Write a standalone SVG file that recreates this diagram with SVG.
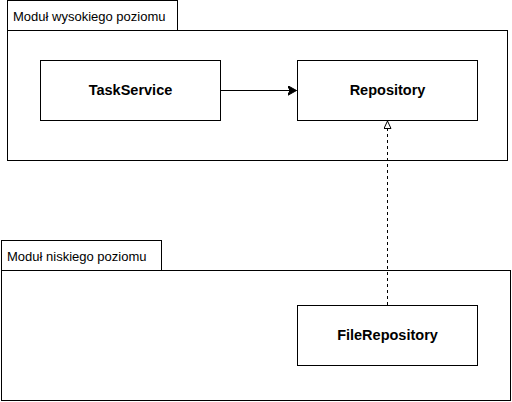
<svg xmlns="http://www.w3.org/2000/svg" width="512" height="402" viewBox="0 0 512 402">
<style>
.frame{fill:#fff;stroke:#000;stroke-width:1}
.tab{font-family:"Liberation Sans",Arial,sans-serif;font-size:13px;fill:#000}
.lbl{font-family:"Liberation Sans",Arial,sans-serif;font-size:14.5px;font-weight:bold;fill:#000;text-anchor:middle}
.conn{fill:none;stroke:#000;stroke-width:1}
</style>
<defs>
<marker id="classic" markerUnits="userSpaceOnUse" markerWidth="12" markerHeight="12" refX="9" refY="5" orient="auto">
<path d="M0,0 L9,5 L0,10 L2.5,5 z" fill="#000" stroke="#000" stroke-width="1"/>
</marker>
<marker id="hollow" markerUnits="userSpaceOnUse" markerWidth="12" markerHeight="12" refX="8" refY="4" orient="auto">
<path d="M0.5,0.5 L8,4 L0.5,7.5 z" fill="#fff" stroke="#000" stroke-width="1"/>
</marker>
</defs>
<rect width="512" height="402" fill="#fff"/>
<g id="pkg-high">
<rect class="frame" x="7.5" y="0.5" width="170" height="30"/>
<rect class="frame" x="7.5" y="30.5" width="500" height="130"/>
<text class="tab" x="13" y="20.5">Moduł wysokiego poziomu</text>
</g>
<g id="pkg-low">
<rect class="frame" x="1.5" y="240.5" width="160" height="30"/>
<rect class="frame" x="1.5" y="270.5" width="509" height="130"/>
<text class="tab" x="7" y="260.5">Moduł niskiego poziomu</text>
</g>
<g id="TaskService">
<rect class="frame" x="40.5" y="60.5" width="180" height="60"/>
<text class="lbl" x="130.5" y="95">TaskService</text>
</g>
<g id="Repository">
<rect class="frame" x="297.5" y="60.5" width="180" height="60"/>
<text class="lbl" x="387.5" y="95">Repository</text>
</g>
<g id="FileRepository">
<rect class="frame" x="297.5" y="305.5" width="180" height="60"/>
<text class="lbl" x="387.5" y="340">FileRepository</text>
</g>
<g id="connectors">
<path class="conn" d="M220.5,90.5 L296.5,90.5" marker-end="url(#classic)"/>
<path class="conn" d="M387.5,305 L387.5,121" stroke-dasharray="3 3" marker-end="url(#hollow)"/>
</g>
</svg>
